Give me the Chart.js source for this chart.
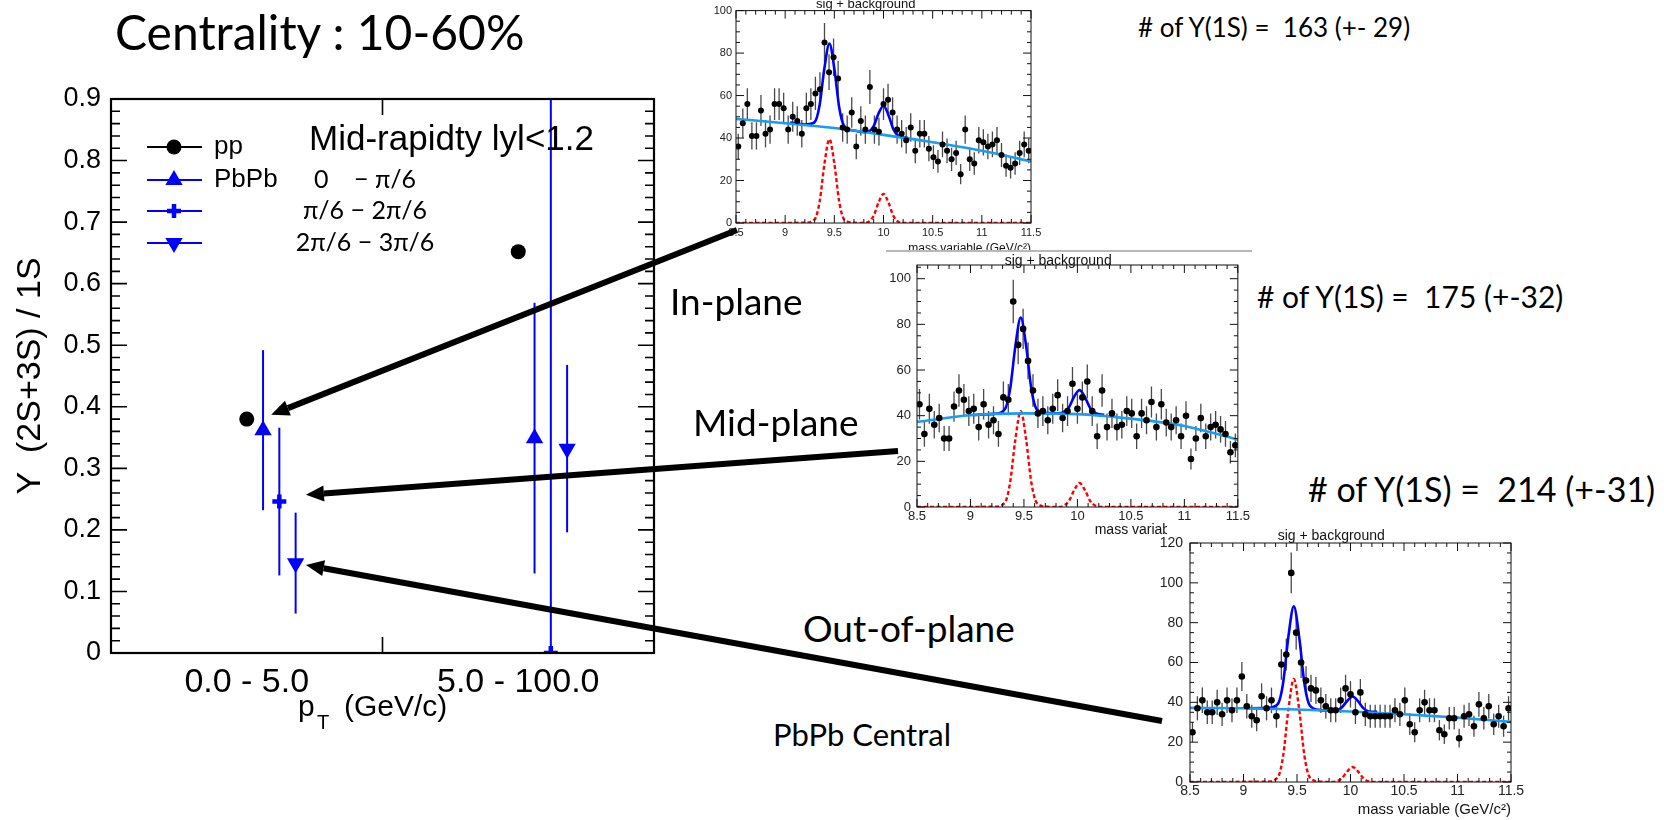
<!DOCTYPE html>
<html lang="en">
<head>
<meta charset="UTF-8">
<title>Upsilon (2S+3S)/1S vs pT, centrality 10-60%</title>
<script src="https://cdn.jsdelivr.net/npm/chart.js@4.4.1/dist/chart.umd.min.js"></script>
<style>
  html, body { margin: 0; padding: 0; background: #fff; }
  #page { position: relative; width: 1664px; height: 820px; overflow: hidden; background: #fff; }
  canvas, .panel, .note { position: absolute; }
  .panel { background: #fff; }
  .note { font-family: Lato, 'Open Sans', sans-serif; color: #000; white-space: pre; line-height: 1; z-index: 8; }
</style>
</head>
<body>
<div id="page">
  <canvas id="mainChart" width="700" height="760" style="left:0px;top:0px;z-index:1"></canvas>

  <div class="panel" style="left:690px;top:0px;width:355px;height:250px;z-index:2"></div>
  <canvas id="fit1" width="355" height="250" style="left:690px;top:0px;z-index:3"></canvas>

  <div class="panel" style="left:886px;top:250px;width:366px;height:285px;border-top:2px solid #b8b8b8;z-index:4"></div>
  <canvas id="fit2" width="366" height="285" style="left:886px;top:250px;z-index:5"></canvas>

  <div class="panel" style="left:1167px;top:523px;width:370px;height:297px;z-index:6"></div>
  <canvas id="fit3" width="392" height="297" style="left:1145px;top:523px;z-index:7"></canvas>

  <div class="note" style="left:115px;top:8px;font-size:48px">Centrality : 10-60%</div>
  <div class="note" style="left:1138px;top:14px;font-size:26px"># of Y(1S) =  163 (+- 29)</div>
  <div class="note" style="left:670px;top:282px;font-size:37px">In-plane</div>
  <div class="note" style="left:1257px;top:281px;font-size:30px"># of Y(1S) =  175 (+-32)</div>
  <div class="note" style="left:693px;top:403px;font-size:37px">Mid-plane</div>
  <div class="note" style="left:1308px;top:472px;font-size:34px"># of Y(1S) =  214 (+-31)</div>
  <div class="note" style="left:803px;top:609px;font-size:37px">Out-of-plane</div>
  <div class="note" style="left:773px;top:719px;font-size:31px">PbPb Central</div>

  <canvas id="arrows" width="1664" height="820" style="left:0px;top:0px;z-index:9;pointer-events:none"></canvas>
</div>

<script>
// ---- main plot: ratio per pT bin ----
const ptBins = ['0.0 - 5.0', '5.0 - 100.0'];
const ppRatio = [0.380, 0.652];
const inPlane = [0.362, 0.349];
const inPlaneErr = [0.130, 0.220];
const midPlane = [0.246, 0.000];
const midPlaneErr = [0.120, 1.000];
const outPlane = [0.146, 0.332];
const outPlaneErr = [0.082, 0.136];
const ratioTicks = [0, 0.1, 0.2, 0.3, 0.4, 0.5, 0.6, 0.7, 0.8, 0.9];

// ---- mass fits (65 bins between 8.5 and 11.5 GeV/c^2) ----
const massTicks = [8.5, 9, 9.5, 10, 10.5, 11, 11.5];
const fit1Counts = [36,47,56,41,41,53,42,44,56,56,54,44,50,48,42,54,56,61,63,85,71,78,68,45,44,52,36,48,44,64,44,43,56,58,52,44,42,39,45,34,42,42,35,31,29,37,34,30,33,23,44,30,28,39,38,36,37,39,32,27,26,28,33,37,34];
const fit2Counts = [45,32,43,36,39,30,30,44,51,47,42,43,35,45,36,38,32,48,47,90,71,78,64,51,41,42,38,43,49,39,42,54,43,48,55,42,31,51,35,41,35,36,42,41,31,41,38,46,35,45,37,35,38,31,40,21,30,39,31,35,36,34,32,24,27];
const fit3Counts = [25,37,41,35,35,40,34,41,36,41,53,38,33,31,43,37,41,33,59,64,105,75,60,51,47,46,41,38,36,36,41,47,44,35,45,34,33,33,33,33,33,36,34,41,29,25,36,40,36,36,26,24,32,32,22,33,34,28,39,32,38,29,33,28,37];

const bkgMass = [8.5, 9.0, 9.5, 10.0, 10.5, 11.0, 11.5];
const fit1Bkg = [49, 47, 44.7, 41.5, 38, 34, 29];
const fit2Bkg = [37.3, 40.2, 41, 40.7, 38.7, 35.5, 29.5];
const fit3Bkg = [37.2, 37, 36.4, 35.4, 34, 32.3, 30.2];

const fit1SigMass = [8.5, 9.2, 9.3, 9.35, 9.4, 9.45, 9.5, 9.55, 9.6, 9.7, 9.8, 9.85, 9.9, 9.95, 10.0, 10.05, 10.1, 10.15, 10.2, 11.5];
const fit1Sig = [0, 0.1, 1.7, 9.9, 28, 39.5, 28, 9.9, 1.7, 0.1, 0, 0.6, 3.4, 9.7, 13.7, 9.7, 3.4, 0.6, 0, 0];
const fit1TotMass = [9.05, 9.2, 9.3, 9.35, 9.4, 9.45, 9.5, 9.55, 9.6, 9.7, 9.8, 9.85, 9.9, 9.95, 10.0, 10.05, 10.1, 10.15, 10.25];
const fit1Tot = [47.3, 46.4, 47.5, 55.4, 73.2, 84.5, 72.7, 54.3, 45.7, 43.5, 42.8, 43.1, 45.6, 51.6, 55.2, 50.9, 44.2, 41.1, 40.0];

const fit2SigMass = [8.5, 9.22, 9.32, 9.37, 9.42, 9.47, 9.52, 9.57, 9.62, 9.72, 9.82, 9.87, 9.92, 9.97, 10.02, 10.07, 10.12, 10.17, 10.22, 11.5];
const fit2Sig = [0, 0.1, 1.8, 10.5, 29.7, 42, 29.7, 10.5, 1.8, 0.1, 0, 0.5, 2.6, 7.4, 10.5, 7.4, 2.6, 0.5, 0, 0];
const fit2TotMass = [9.02, 9.22, 9.32, 9.37, 9.42, 9.47, 9.52, 9.57, 9.62, 9.72, 9.82, 9.87, 9.92, 9.97, 10.02, 10.07, 10.12, 10.17, 10.25];
const fit2Tot = [40.3, 40.8, 42.7, 51.4, 70.6, 83, 70.7, 51.5, 42.8, 41.1, 41, 41.5, 43.6, 48.4, 51.2, 48.1, 43.3, 41.1, 40.4];

const fit3SigMass = fit2SigMass;
const fit3Sig = [0, 0.2, 2.3, 12.9, 36.6, 51.7, 36.6, 12.9, 2.3, 0.2, 0, 0.3, 1.9, 5.3, 7.5, 5.3, 1.9, 0.3, 0, 0];
const fit3TotMass = fit2TotMass;
const fit3Tot = [37.0, 37.1, 39.1, 49.6, 73.2, 88.2, 73, 49.2, 38.4, 36.1, 35.8, 35.9, 37.5, 40.8, 42.9, 40.6, 37.1, 35.4, 35.2];

const fit1YTicks = [0, 20, 40, 60, 80, 100];
const fit2YTicks = [0, 20, 40, 60, 80, 100];
const fit3YTicks = [0, 20, 40, 60, 80, 100, 120];

const BLUE = '#0000ff';
const ROOT_FONT = "'Liberation Sans', Arial, sans-serif";

// points are placed at the bin centre, PbPb shifted right so the bars do not overlap
function ratioPoints(vals, errs, shift) {
    return vals.map((v, i) => ({ x: i + 0.5 + shift, y: v, e: errs ? errs[i] : 0 }));
}

function drawErrors(chart) {
    const { ctx, chartArea: a, scales: { x, y } } = chart;
    ctx.save();
    ctx.beginPath();
    ctx.rect(a.left, a.top, a.right - a.left, a.bottom - a.top);
    ctx.clip();
    chart.data.datasets.forEach(ds => {
        if (!ds.errColor) return;
        ctx.strokeStyle = ds.errColor;
        ctx.lineWidth = ds.errWidth;
        ds.data.forEach(p => {
            if (!p.e) return;
            const px = x.getPixelForValue(p.x);
            ctx.beginPath();
            ctx.moveTo(px, y.getPixelForValue(p.y - p.e));
            ctx.lineTo(px, y.getPixelForValue(p.y + p.e));
            ctx.stroke();
        });
    });
    ctx.restore();
}

// ROOT style inward ticks on all four sides
function yTicksBoth(ctx, a, y, vals, nSub, big, small) {
    vals.forEach((v, i) => {
        const py = y.getPixelForValue(v);
        ctx.beginPath();
        ctx.moveTo(a.left, py); ctx.lineTo(a.left + big, py);
        ctx.moveTo(a.right, py); ctx.lineTo(a.right - big, py);
        ctx.stroke();
        const next = i < vals.length - 1 ? vals[i + 1] : v + (v - vals[i - 1]);
        for (let k = 1; k < nSub; k++) {
            const vm = v + k * (next - v) / nSub;
            if (vm > y.max + 1e-9) break;
            const pm = y.getPixelForValue(vm);
            ctx.beginPath();
            ctx.moveTo(a.left, pm); ctx.lineTo(a.left + small, pm);
            ctx.moveTo(a.right, pm); ctx.lineTo(a.right - small, pm);
            ctx.stroke();
        }
    });
}

function xTicksBoth(ctx, a, x, vals, nSub, big, small) {
    vals.forEach((v, i) => {
        const px = x.getPixelForValue(v);
        ctx.beginPath();
        ctx.moveTo(px, a.bottom); ctx.lineTo(px, a.bottom - big);
        ctx.moveTo(px, a.top); ctx.lineTo(px, a.top + big);
        ctx.stroke();
        if (i === vals.length - 1) return;
        for (let k = 1; k < nSub; k++) {
            const pm = x.getPixelForValue(v + k * (vals[i + 1] - v) / nSub);
            ctx.beginPath();
            ctx.moveTo(pm, a.bottom); ctx.lineTo(pm, a.bottom - small);
            ctx.moveTo(pm, a.top); ctx.lineTo(pm, a.top + small);
            ctx.stroke();
        }
    });
}

const legendRows = [
    { label: 'pp', range: '', color: '#000', style: 'circle', radius: 7.5, rot: 0, bw: 0, dy: 48 },
    { label: 'PbPb', range: '0    \u2212 \u03c0/6', color: BLUE, style: 'triangle', radius: 10, rot: 0, bw: 0, dy: 81 },
    { label: '', range: '\u03c0/6 \u2212 2\u03c0/6', color: BLUE, style: 'cross', radius: 7, rot: 0, bw: 4.5, dy: 112 },
    { label: '', range: '2\u03c0/6 \u2212 3\u03c0/6', color: BLUE, style: 'triangle', radius: 10, rot: 180, bw: 0, dy: 144 }
];

const mainDecor = {
    id: 'mainDecor',
    beforeDatasetsDraw(chart) { drawErrors(chart); },
    afterDraw(chart) {
        const { ctx, chartArea: a, scales: { x, y } } = chart;
        ctx.save();
        ctx.strokeStyle = '#000';
        ctx.lineWidth = 1.6;
        yTicksBoth(ctx, a, y, ratioTicks, 5, 16, 9);
        for (let i = 1; i < ptBins.length; i++) {
            const px = x.getPixelForValue(i);
            ctx.beginPath();
            ctx.moveTo(px, a.bottom); ctx.lineTo(px, a.bottom - 16);
            ctx.moveTo(px, a.top); ctx.lineTo(px, a.top + 16);
            ctx.stroke();
        }
        ctx.lineWidth = 2.2;
        ctx.strokeRect(a.left, a.top, a.right - a.left, a.bottom - a.top);

        // legend
        legendRows.forEach(r => {
            const ly = a.top + r.dy;
            ctx.strokeStyle = r.color;
            ctx.fillStyle = r.color;
            ctx.lineWidth = 2;
            ctx.beginPath();
            ctx.moveTo(a.left + 36, ly); ctx.lineTo(a.left + 91, ly);
            ctx.stroke();
            ctx.lineWidth = r.bw;
            Chart.helpers.drawPoint(ctx, { pointStyle: r.style, radius: r.radius, rotation: r.rot, borderWidth: r.bw }, a.left + 63, ly);
            ctx.fillStyle = '#000';
            ctx.textBaseline = 'middle';
            ctx.textAlign = 'left';
            ctx.font = '26px ' + ROOT_FONT;
            if (r.label) ctx.fillText(r.label, a.left + 103, ly);
            ctx.textAlign = 'center';
            ctx.font = "25px Lato, 'Noto Sans', sans-serif";
            if (r.range) ctx.fillText(r.range, a.left + 254, ly);
        });

        ctx.fillStyle = '#000';
        ctx.textAlign = 'left';
        ctx.textBaseline = 'alphabetic';
        ctx.font = '35px ' + ROOT_FONT;
        ctx.fillText('Mid-rapidty lyl<1.2', a.left + 198, a.top + 51);

        // x title with subscript
        ctx.font = '30px ' + ROOT_FONT;
        ctx.fillText('p', a.left + 187, a.bottom + 63);
        ctx.font = '20px ' + ROOT_FONT;
        ctx.fillText('T', a.left + 206, a.bottom + 76);
        ctx.font = '30px ' + ROOT_FONT;
        ctx.fillText('(GeV/c)', a.left + 233, a.bottom + 63);
        ctx.restore();
    }
};

const mainChart = new Chart(document.getElementById('mainChart'), {
    type: 'scatter',
    data: {
        datasets: [
            { label: 'pp', data: ratioPoints(ppRatio, null, 0), pointStyle: 'circle', pointRadius: 7.5,
              backgroundColor: '#000', borderColor: '#000', borderWidth: 0 },
            { label: 'PbPb 0-\u03c0/6', data: ratioPoints(inPlane, inPlaneErr, 0.06), pointStyle: 'triangle', pointRadius: 10,
              backgroundColor: BLUE, borderColor: BLUE, borderWidth: 0, errColor: BLUE, errWidth: 2 },
            { label: 'PbPb \u03c0/6-2\u03c0/6', data: ratioPoints(midPlane, midPlaneErr, 0.12), pointStyle: 'cross', pointRadius: 7,
              backgroundColor: BLUE, borderColor: BLUE, borderWidth: 4.5, errColor: BLUE, errWidth: 2, clip: 0 },
            { label: 'PbPb 2\u03c0/6-3\u03c0/6', data: ratioPoints(outPlane, outPlaneErr, 0.18), pointStyle: 'triangle', pointRotation: 180, pointRadius: 10,
              backgroundColor: BLUE, borderColor: BLUE, borderWidth: 0, errColor: BLUE, errWidth: 2 }
        ]
    },
    options: {
        responsive: false,
        animation: false,
        events: [],
        layout: { padding: { top: 99, right: 46, left: 0, bottom: 0 } },
        plugins: { legend: { display: false }, tooltip: { enabled: false } },
        scales: {
            x: {
                type: 'linear', min: 0, max: ptBins.length,
                afterFit(s) { s.height = 107; },
                afterBuildTicks(s) { s.ticks = ptBins.map((_, i) => ({ value: i + 0.5 })); },
                ticks: { callback: v => ptBins[Math.round(v - 0.5)], color: '#000', padding: 9, maxRotation: 0, autoSkip: false,
                         font: { family: ROOT_FONT, size: 34 } },
                grid: { display: false, drawTicks: false },
                border: { display: false }
            },
            y: {
                min: 0, max: 0.9,
                afterFit(s) { s.width = 111; },
                afterBuildTicks(s) { s.ticks = ratioTicks.map(v => ({ value: v })); },
                ticks: { callback: v => String(+v.toFixed(1)), color: '#000', padding: 10,
                         font: { family: ROOT_FONT, size: 27 } },
                grid: { display: false, drawTicks: false },
                border: { display: false },
                title: { display: true, text: '\u03a5  (2S+3S) / 1S', color: '#000', padding: { top: 10, bottom: 0 },
                         font: { family: ROOT_FONT, size: 34 } }
            }
        }
    },
    plugins: [mainDecor]
});

// ---- the three invariant mass fits ----
function makeFit(id, o) {
    const bins = o.counts.map((c, i) => ({ x: 8.5 + (i + 0.5) * 3 / o.counts.length, y: c, e: Math.sqrt(c) }));
    const curve = (xs, ys) => xs.map((m, i) => ({ x: m, y: ys[i] }));
    const decor = {
        id: 'fitDecor',
        beforeDatasetsDraw(chart) { drawErrors(chart); },
        afterDraw(chart) {
            const { ctx, chartArea: a, scales: { x, y } } = chart;
            ctx.save();
            ctx.strokeStyle = '#111';
            ctx.lineWidth = 1;
            xTicksBoth(ctx, a, x, massTicks, 5, 8, 4);
            yTicksBoth(ctx, a, y, o.yTicks, 4, 8, 4);
            ctx.strokeRect(a.left, a.top, a.right - a.left, a.bottom - a.top);
            ctx.fillStyle = '#111';
            ctx.textBaseline = 'middle';
            ctx.textAlign = 'center';
            ctx.font = o.titleSize + 'px ' + ROOT_FONT;
            ctx.fillText('sig + background', a.left + 0.44 * (a.right - a.left), a.top + o.titleDy);
            ctx.textAlign = 'right';
            ctx.font = o.xTitleSize + 'px ' + ROOT_FONT;
            ctx.fillText('mass variable (GeV/c\u00b2)', a.right, a.bottom + o.xTitleDy);
            ctx.restore();
        }
    };
    return new Chart(document.getElementById(id), {
        type: 'scatter',
        data: {
            datasets: [
                { data: bins, pointRadius: o.dot, backgroundColor: '#000', borderWidth: 0, errColor: '#4a4a4a', errWidth: 1.3, order: 0 },
                { type: 'line', data: curve(bkgMass, o.bkg), borderColor: '#1a9cf0', borderWidth: 2.6, pointRadius: 0,
                  cubicInterpolationMode: 'monotone', order: 1 },
                { type: 'line', data: curve(o.totMass, o.tot), borderColor: BLUE, borderWidth: 2.6, pointRadius: 0,
                  cubicInterpolationMode: 'monotone', order: 2 },
                { type: 'line', data: curve(o.sigMass, o.sig), borderColor: '#ff0000', borderWidth: 2.4, borderDash: [4, 2.5],
                  pointRadius: 0, cubicInterpolationMode: 'monotone', order: 3 }
            ]
        },
        options: {
            responsive: false,
            animation: false,
            events: [],
            layout: { padding: { top: o.padTop, right: o.padRight, left: 0, bottom: 0 } },
            plugins: { legend: { display: false }, tooltip: { enabled: false } },
            scales: {
                x: {
                    type: 'linear', min: 8.5, max: 11.5,
                    afterFit(s) { s.height = o.xAxisH; },
                    afterBuildTicks(s) { s.ticks = massTicks.map(v => ({ value: v })); },
                    ticks: { callback: v => String(v), color: '#222', padding: o.xPad, maxRotation: 0, autoSkip: false,
                             font: { family: ROOT_FONT, size: o.font } },
                    grid: { display: false, drawTicks: false },
                    border: { display: false }
                },
                y: {
                    min: 0, max: o.yMax,
                    afterFit(s) { s.width = o.yAxisW; },
                    afterBuildTicks(s) { s.ticks = o.yTicks.map(v => ({ value: v })); },
                    ticks: { callback: v => String(v), color: '#222', padding: o.yPad,
                             font: { family: ROOT_FONT, size: o.font } },
                    grid: { display: false, drawTicks: false },
                    border: { display: false }
                }
            }
        },
        plugins: [decor]
    });
}

makeFit('fit1', { counts: fit1Counts, bkg: fit1Bkg, sigMass: fit1SigMass, sig: fit1Sig, totMass: fit1TotMass, tot: fit1Tot,
    yTicks: fit1YTicks, yMax: 100, padTop: 4, padRight: 14, yAxisW: 46, xAxisH: 27, font: 11, xPad: 3, yPad: 4,
    dot: 3, titleSize: 13, titleDy: -6, xTitleSize: 12, xTitleDy: 26 });
makeFit('fit2', { counts: fit2Counts, bkg: fit2Bkg, sigMass: fit2SigMass, sig: fit2Sig, totMass: fit2TotMass, tot: fit2Tot,
    yTicks: fit2YTicks, yMax: 106, padTop: 15, padRight: 13, yAxisW: 31, xAxisH: 28, font: 13, xPad: 2, yPad: 6,
    dot: 3.3, titleSize: 14, titleDy: -4, xTitleSize: 14, xTitleDy: 23 });
makeFit('fit3', { counts: fit3Counts, bkg: fit3Bkg, sigMass: fit3SigMass, sig: fit3Sig, totMass: fit3TotMass, tot: fit3Tot,
    yTicks: fit3YTicks, yMax: 120, padTop: 20, padRight: 26, yAxisW: 45, xAxisH: 38, font: 14, xPad: 1, yPad: 7,
    dot: 3.3, titleSize: 14, titleDy: -7, xTitleSize: 15, xTitleDy: 28 });

// ---- arrows from each fit to its PbPb point ----
const arrowLinks = [
    { from: [737, 230], to: [0.59, 0.387] },
    { from: [898, 451], to: [0.718, 0.257] },
    { from: [1162, 721], to: [0.718, 0.143] }
];
(function drawArrows() {
    const ctx = document.getElementById('arrows').getContext('2d');
    const sx = mainChart.scales.x, sy = mainChart.scales.y;
    ctx.fillStyle = '#000';
    ctx.strokeStyle = '#000';
    arrowLinks.forEach(l => {
        const [x0, y0] = l.from;
        const x1 = sx.getPixelForValue(l.to[0]), y1 = sy.getPixelForValue(l.to[1]);
        const ang = Math.atan2(y1 - y0, x1 - x0), head = 18, half = 8;
        const bx = x1 - Math.cos(ang) * head, by = y1 - Math.sin(ang) * head;
        ctx.lineWidth = 6;
        ctx.beginPath();
        ctx.moveTo(x0, y0); ctx.lineTo(bx, by);
        ctx.stroke();
        ctx.beginPath();
        ctx.moveTo(x1, y1);
        ctx.lineTo(bx - Math.sin(ang) * half, by + Math.cos(ang) * half);
        ctx.lineTo(bx + Math.sin(ang) * half, by - Math.cos(ang) * half);
        ctx.closePath();
        ctx.fill();
    });
})();
</script>
</body>
</html>
